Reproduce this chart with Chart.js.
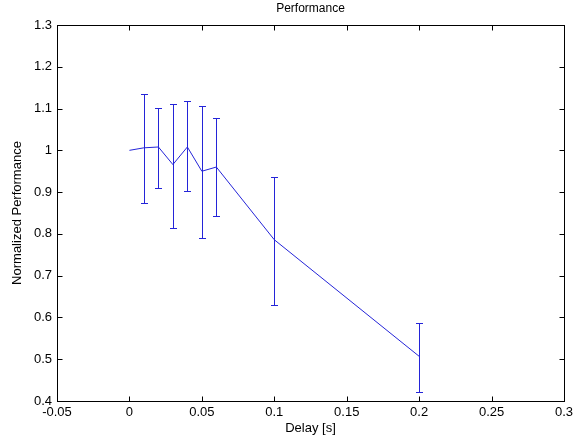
<!DOCTYPE html>
<html>
<head>
<meta charset="utf-8">
<script src="https://cdn.jsdelivr.net/npm/chart.js@4/dist/chart.umd.min.js"></script>
<style>
  html, body { margin: 0; padding: 0; background: #ffffff; }
  canvas { display: block; }
</style>
</head>
<body>
<canvas id="c" width="578" height="440"></canvas>
<script>
// ---- data ----
const delays   = [0, 0.01, 0.02, 0.03, 0.04, 0.05, 0.06, 0.1, 0.2];
const perf     = [1.000, 1.006, 1.008, 0.966, 1.008, 0.950, 0.960, 0.786, 0.507];
const errUpper = [1.000, 1.136, 1.101, 1.111, 1.117, 1.107, 1.077, 0.937, 0.586];
const errLower = [1.000, 0.875, 0.910, 0.814, 0.902, 0.790, 0.843, 0.630, 0.422];
const xTicks   = [-0.05, 0, 0.05, 0.1, 0.15, 0.2, 0.25, 0.3];
const yTicks   = [0.4, 0.5, 0.6, 0.7, 0.8, 0.9, 1.0, 1.1, 1.2, 1.3];
const chartTitle = 'Performance';

const points = delays.map((d, i) => ({ x: d, y: perf[i] }));
const BLUE = '#2424d8';
const FONT = "'Liberation Sans', Arial, Helvetica, sans-serif";

const fmt = v => String(+Number(v).toFixed(4));

const errorBarsAndBox = {
  id: 'errorBarsAndBox',
  afterDatasetsDraw(chart) {
    const ctx = chart.ctx;
    const xs = chart.scales.x, ys = chart.scales.y;
    const a = chart.chartArea;
    ctx.save();
    // error bars
    ctx.strokeStyle = BLUE;
    ctx.lineWidth = 1;
    for (let i = 0; i < delays.length; i++) {
      if (errUpper[i] === errLower[i]) continue;
      const px = Math.round(xs.getPixelForValue(delays[i])) + 0.5;
      const pt = Math.round(ys.getPixelForValue(errUpper[i])) + 0.5;
      const pb = Math.round(ys.getPixelForValue(errLower[i])) + 0.5;
      ctx.beginPath();
      ctx.moveTo(px, pt); ctx.lineTo(px, pb);
      ctx.moveTo(px - 3.5, pt); ctx.lineTo(px + 3.5, pt);
      ctx.moveTo(px - 3.5, pb); ctx.lineTo(px + 3.5, pb);
      ctx.stroke();
    }
    // box
    ctx.strokeStyle = '#000';
    const L = Math.round(a.left) + 0.5, R = Math.round(a.right) + 0.5;
    const T = Math.round(a.top) + 0.5, B = Math.round(a.bottom) + 0.5;
    ctx.strokeRect(L, T, R - L, B - T);
    // inward ticks
    const tl = 5;
    ctx.beginPath();
    xTicks.forEach(v => {
      const px = Math.round(xs.getPixelForValue(v)) + 0.5;
      ctx.moveTo(px, B); ctx.lineTo(px, B - tl);
      ctx.moveTo(px, T); ctx.lineTo(px, T + tl);
    });
    yTicks.forEach(v => {
      const py = Math.round(ys.getPixelForValue(v)) + 0.5;
      ctx.moveTo(L, py); ctx.lineTo(L + tl, py);
      ctx.moveTo(R, py); ctx.lineTo(R - tl, py);
    });
    ctx.stroke();
    // title centred over the axes box
    ctx.fillStyle = '#000';
    ctx.font = '12px ' + FONT;
    ctx.textAlign = 'center';
    ctx.textBaseline = 'middle';
    ctx.fillText(chartTitle, (a.left + a.right) / 2, 9);
    ctx.restore();
  }
};

new Chart(document.getElementById('c'), {
  type: 'scatter',
  data: {
    datasets: [{
      data: points,
      showLine: true,
      borderColor: BLUE,
      backgroundColor: BLUE,
      borderWidth: 1,
      pointRadius: 0,
      tension: 0
    }]
  },
  options: {
    responsive: false,
    devicePixelRatio: 1,
    animation: false,
    layout: { padding: { left: 0, right: 14, top: 25, bottom: 0 } },
    plugins: {
      legend: { display: false },
      tooltip: { enabled: false },
      title: { display: false }
    },
    scales: {
      x: {
        type: 'linear',
        min: -0.05, max: 0.3,
        afterBuildTicks: s => { s.ticks = xTicks.map(v => ({ value: v })); },
        afterFit: s => { s.height = 39; },
        grid: { display: false, drawTicks: false },
        border: { display: false },
        ticks: {
          color: '#000',
          padding: 4,
          maxRotation: 0,
          autoSkip: false,
          font: { family: FONT, size: 13 },
          callback: v => fmt(v)
        },
        title: {
          display: true,
          text: 'Delay [s]',
          color: '#000',
          font: { family: FONT, size: 13 },
          padding: { top: 0, bottom: 4 }
        }
      },
      y: {
        type: 'linear',
        min: 0.4, max: 1.3,
        afterBuildTicks: s => { s.ticks = yTicks.map(v => ({ value: v })); },
        afterFit: s => { s.width = 57; },
        grid: { display: false, drawTicks: false },
        border: { display: false },
        ticks: {
          color: '#000',
          padding: 5,
          autoSkip: false,
          font: { family: FONT, size: 13 },
          callback: v => fmt(v)
        },
        title: {
          display: true,
          text: 'Normalized Performance',
          color: '#000',
          font: { family: FONT, size: 13 },
          padding: { top: 10, bottom: 0 }
        }
      }
    }
  },
  plugins: [errorBarsAndBox]
});
</script>
</body>
</html>
